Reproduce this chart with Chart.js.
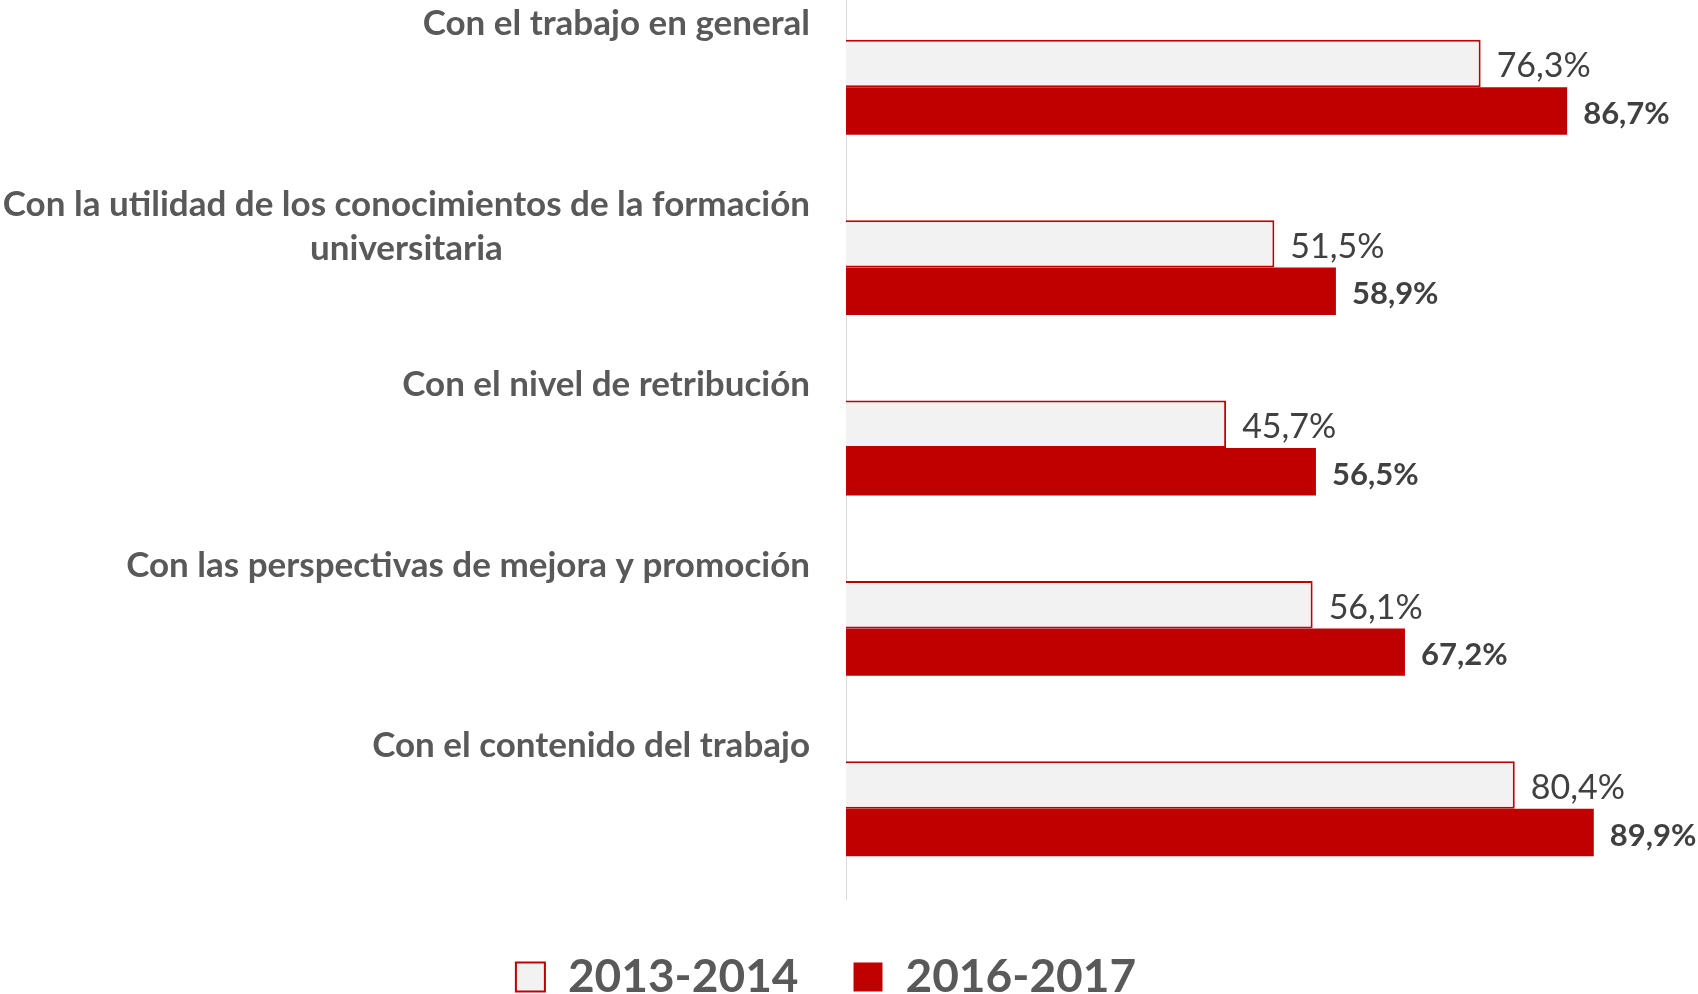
<!DOCTYPE html>
<html>
<head>
<meta charset="utf-8">
<script src="https://cdn.jsdelivr.net/npm/chart.js@4"></script>
<style>
  html, body { margin: 0; padding: 0; background: #fff; overflow: hidden; width: 1698px; height: 994px; }
  #wrap { position: absolute; left: 0; top: -3px; }
</style>
</head>
<body>
<div id="wrap"><canvas id="grafico" width="1698" height="1013"></canvas></div>
<script>
// etiquetas de categoria (cada una con sus lineas)
const categorias = [
  ['Con el trabajo en general'],
  ['Con la utilidad de los conocimientos de la formación', 'universitaria'],
  ['Con el nivel de retribución'],
  ['Con las perspectivas de mejora y promoción'],
  ['Con el contenido del trabajo']
];
const series = ['2013-2014', '2016-2017'];
const valores2013 = [76.3, 51.5, 45.7, 56.1, 80.4];
const valores2016 = [86.7, 58.9, 56.5, 67.2, 89.9];

const ROJO = '#C00000';
const GRIS_TXT = '#595959';
const FUENTE = 'Lato';

// dibuja las etiquetas de categoria encima de cada grupo
const etiquetasCategoria = {
  id: 'etiquetasCategoria',
  afterDraw(chart) {
    const ctx = chart.ctx;
    const y = chart.scales.y;
    const derecha = 810;
    const lineH = 44.5;
    ctx.save();
    ctx.font = 'bold 35px ' + FUENTE;
    ctx.fillStyle = GRIS_TXT;
    ctx.textBaseline = 'middle';
    ctx.textAlign = 'center';
    categorias.forEach((lineas, i) => {
      const centro = y.getPixelForValue(i);
      const maxAncho = Math.max(...lineas.map(l => ctx.measureText(l).width));
      const cx = derecha - maxAncho / 2;
      lineas.forEach((l, j) => {
        ctx.fillText(l, cx, centro - 63 + j * lineH);
      });
    });
    ctx.restore();
  }
};

// valores al final de cada barra
const etiquetasValor = {
  id: 'etiquetasValor',
  afterDatasetsDraw(chart) {
    const ctx = chart.ctx;
    ctx.save();
    ctx.fillStyle = '#404040';
    ctx.textAlign = 'left';
    ctx.textBaseline = 'middle';
    chart.data.datasets.forEach((ds, d) => {
      ctx.font = d === 0 ? '34px ' + FUENTE : 'bold 31px ' + FUENTE;
      chart.getDatasetMeta(d).data.forEach((el, i) => {
        const txt = ds.data[i].toFixed(1).replace('.', ',') + '%';
        ctx.fillText(txt, el.x + 16, el.y + 3);
      });
    });
    ctx.restore();
  }
};

const config = {
  type: 'bar',
  data: {
    labels: categorias.map(c => c.join(' ')),
    datasets: [
      {
        label: series[0],
        data: valores2013,
        backgroundColor: '#F2F2F2',
        borderColor: ROJO,
        borderWidth: 2,
        borderSkipped: 'start'
      },
      {
        label: series[1],
        data: valores2016,
        backgroundColor: ROJO,
        borderWidth: 0
      }
    ]
  },
  options: {
    indexAxis: 'y',
    responsive: false,
    devicePixelRatio: 1,
    animation: false,
    layout: { padding: { left: 0, right: 46, top: 0, bottom: 0 } },
    datasets: {
      bar: { categoryPercentage: 0.526, barPercentage: 1 }
    },
    scales: {
      x: {
        display: false,
        min: 0,
        max: 96.9
      },
      y: {
        ticks: { display: false },
        grid: { display: false, drawTicks: false },
        border: { display: true, color: '#D9D9D9', width: 1 },
        afterFit: (s) => { s.width = 846; }
      }
    },
    plugins: {
      tooltip: { enabled: false },
      legend: {
        position: 'bottom',
        labels: {
          boxWidth: 29,
          boxHeight: 29,
          padding: 55,
          color: GRIS_TXT,
          font: { family: FUENTE, size: 46, weight: 'bold' }
        }
      }
    }
  },
  plugins: [etiquetasCategoria, etiquetasValor]
};

new Chart(document.getElementById('grafico'), config);
</script>
</body>
</html>
